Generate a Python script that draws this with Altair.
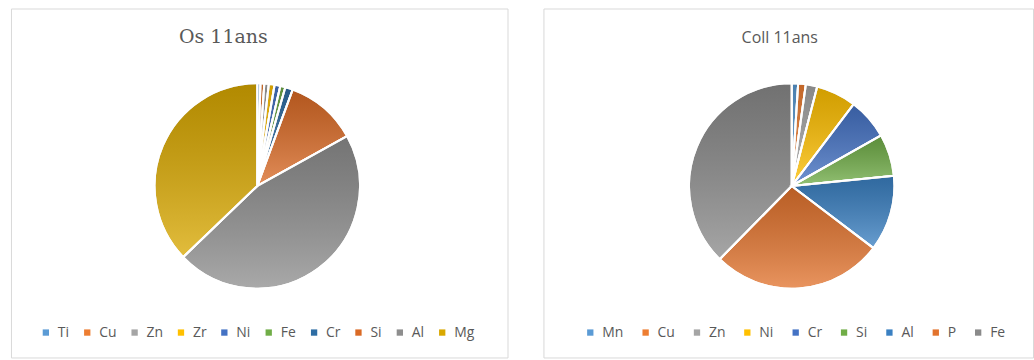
import altair as alt
import pandas as pd

# Element shares (%) for each sample, listed clockwise from 12 o'clock
os_elements = ["Ti", "Cu", "Zn", "Zr", "Ni", "Fe", "Cr", "Si", "Al", "Mg"]
os_values = [0.5, 0.6, 0.7, 0.9, 0.9, 0.8, 1.2, 11.3, 45.8, 37.1]
os_colors = ["#5B9BD5", "#ED7D31", "#A5A5A5", "#FFC000", "#4472C4",
             "#70AD47", "#2E6DA4", "#DA6A25", "#8E8E8E", "#D9A800"]

coll_elements = ["Mn", "Cu", "Zn", "Ni", "Cr", "Si", "Al", "P", "Fe"]
coll_values = [1.0, 1.2, 1.8, 6.3, 6.5, 6.6, 11.9, 27.0, 37.6]
coll_colors = ["#5B9BD5", "#ED7D31", "#A5A5A5", "#FFC000", "#4472C4",
               "#70AD47", "#3A80C2", "#E2732D", "#8A8A8A"]

PANEL_H = 350
RADIUS = 103

# soft top-to-bottom shading laid over every slice
shade = alt.Gradient(
    gradient="linear", x1=0, y1=0, x2=0, y2=1,
    stops=[alt.GradientStop(offset=0, color="rgba(0,0,0,0.18)"),
           alt.GradientStop(offset=1, color="rgba(255,255,255,0.24)")],
)


def pie_panel(title, title_font, title_size, title_x, elements, values, colors,
              width, pie_x, legend_x, col_pad):
    df = pd.DataFrame({"el": elements, "v": values, "i": range(len(elements))})
    base = alt.Chart(df)
    cx, cy = alt.value(pie_x), alt.value(178)
    theta = alt.Theta("v:Q", stack=True)
    order = alt.Order("i:Q")

    slices = base.mark_arc(radius=RADIUS, stroke="white", strokeWidth=2).encode(
        theta=theta, order=order, x=cx, y=cy,
        color=alt.Color(
            "el:N",
            scale=alt.Scale(domain=elements, range=colors),
            sort=elements,
            legend=alt.Legend(
                title=None, orient="none", direction="horizontal",
                legendX=legend_x, legendY=318,
                symbolType="square", symbolSize=40, symbolStrokeWidth=0,
                labelFont="Open Sans", labelFontSize=14, labelColor="#595959",
                labelOffset=5, columnPadding=col_pad,
            ),
        ),
    )
    shading = base.mark_arc(radius=RADIUS, fill=shade, stroke="white",
                            strokeWidth=2).encode(theta=theta, order=order,
                                                  x=cx, y=cy)
    heading = alt.Chart(pd.DataFrame({"t": [title]})).mark_text(
        font=title_font, fontSize=title_size, color="#595959",
        align="center", baseline="alphabetic",
    ).encode(text="t:N", x=alt.value(title_x), y=alt.value(35))

    return alt.layer(slices, shading, heading).properties(width=width,
                                                          height=PANEL_H)


left = pie_panel("Os 11ans", "DejaVu Serif", 19, 213, os_elements, os_values,
                 os_colors, 498, 247, 28, 10.5)
right = pie_panel("Coll 11ans", "Open Sans", 16, 237, coll_elements,
                  coll_values, coll_colors, 491, 249, 40, 14.5)

chart = (
    alt.hconcat(left, right, spacing=34)
    .resolve_scale(color="independent", theta="independent")
    .resolve_legend(color="independent")
    .properties(padding={"left": 10, "top": 7, "right": 0, "bottom": 0},
                background="white")
    .configure_view(stroke="#d9d9d9", strokeWidth=1)
)

chart.save("out.html", embed_options={"renderer": "svg", "actions": False})
